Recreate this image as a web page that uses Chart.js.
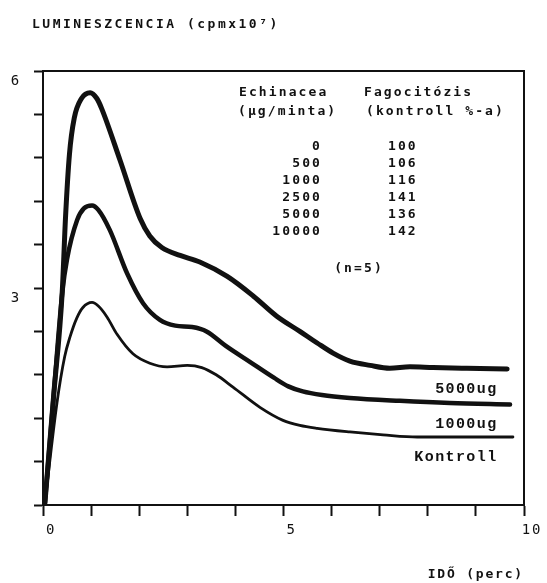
<!DOCTYPE html>
<html>
<head>
<meta charset="utf-8">
<script src="https://cdn.jsdelivr.net/npm/chart.js@4.4.0/dist/chart.umd.min.js"></script>
<style>
  body { margin: 0; background: #fff; }
</style>
</head>
<body>
<canvas id="lumChart" width="547" height="583"></canvas>
<script>
// curves (time in perc, luminescence in cpm x10^7)
const x5000 = [0.04, 0.22, 0.40, 0.47, 0.55, 0.65, 0.80, 0.98, 1.12, 1.22, 1.60, 2.02, 2.22, 2.47, 2.85, 3.26, 3.83, 4.37, 4.86, 5.34, 5.70, 6.03, 6.38, 6.80, 7.21, 7.63, 8.11, 8.81, 9.65];
const y5000 = [0.03, 1.50, 2.95, 4.00, 4.85, 5.35, 5.62, 5.70, 5.62, 5.48, 4.77, 3.96, 3.72, 3.56, 3.45, 3.36, 3.16, 2.89, 2.61, 2.40, 2.24, 2.10, 1.99, 1.93, 1.89, 1.91, 1.90, 1.89, 1.88];

const x1000 = [0.04, 0.22, 0.40, 0.50, 0.71, 0.85, 1.02, 1.15, 1.39, 1.75, 2.08, 2.43, 2.75, 3.10, 3.40, 3.80, 4.30, 4.80, 5.10, 5.40, 5.80, 6.38, 7.42, 8.46, 9.71];
const y1000 = [0.03, 1.50, 2.93, 3.40, 3.94, 4.10, 4.14, 4.08, 3.80, 3.20, 2.79, 2.56, 2.48, 2.46, 2.40, 2.20, 1.98, 1.76, 1.64, 1.57, 1.52, 1.48, 1.44, 1.41, 1.39];

const xKontroll = [0.04, 0.29, 0.45, 0.56, 0.70, 0.83, 1.02, 1.15, 1.33, 1.54, 1.87, 2.22, 2.58, 3.00, 3.30, 3.60, 3.95, 4.51, 4.99, 5.34, 5.70, 6.38, 7.07, 7.78, 8.81, 9.77];
const yKontroll = [0.03, 1.41, 2.05, 2.32, 2.58, 2.73, 2.80, 2.75, 2.60, 2.36, 2.09, 1.96, 1.91, 1.93, 1.90, 1.80, 1.63, 1.35, 1.17, 1.10, 1.06, 1.01, 0.97, 0.94, 0.94, 0.94];

const curveNames = ['5000ug', '1000ug', 'Kontroll'];

const xTicks = [0, 1, 2, 3, 4, 5, 6, 7, 8, 9, 10];
const xLabelValues = [0, 5, 10];
const yTicks = [0, 0.6, 1.2, 1.8, 2.4, 3, 3.6, 4.2, 4.8, 5.4, 6];
const yLabelValues = [3, 6];

// table in the upper right
const tableHead1 = ['Echinacea', '(µg/minta)'];
const tableHead2 = ['Fagocitózis', '(kontroll %-a)'];
const doses = ['0', '500', '1000', '2500', '5000', '10000'];
const phago = ['100', '106', '116', '141', '136', '142'];
const nNote = '(n=5)';

const yTitle = 'LUMINESZCENCIA (cpmx10⁷)';
const xTitle = 'IDŐ (perc)';

const ink = '#111';
const monoFont = '"DejaVu Sans Mono"';

function pts(xs, ys) {
    return xs.map((v, i) => ({ x: v, y: ys[i] }));
}

const textPlugin = {
    id: 'textPlugin',
    beforeDraw(chart) {
        chart.ctx.letterSpacing = '1.8px';
    },
    afterDraw(chart) {
        const ctx = chart.ctx;
        ctx.save();
        ctx.fillStyle = ink;
        ctx.textBaseline = 'middle';
        ctx.font = 'bold 13px ' + monoFont;
        ctx.letterSpacing = '2.5px';

        ctx.textAlign = 'left';
        ctx.fillText(yTitle, 32, 25);

        // table
        ctx.letterSpacing = '2.1px';
        ctx.fillText(tableHead1[0], 239, 93);
        ctx.fillText(tableHead1[1], 238, 112);
        ctx.fillText(tableHead2[0], 364, 93);
        ctx.fillText(tableHead2[1], 366, 112);
        doses.forEach((d, i) => {
            ctx.textAlign = 'right';
            ctx.fillText(d, 322, 147 + i * 17);
            ctx.textAlign = 'left';
            ctx.fillText(phago[i], 388, 147 + i * 17);
        });
        ctx.textAlign = 'center';
        ctx.fillText(nNote, 359, 269);

        // curve names under the line ends
        ctx.font = 'bold 15px "Liberation Mono"';
        ctx.letterSpacing = '1.4px';
        ctx.textAlign = 'right';
        const xs = chart.scales.x;
        curveNames.forEach((name, i) => {
            const meta = chart.getDatasetMeta(i);
            const last = meta.data[meta.data.length - 1];
            ctx.fillText(name, xs.getPixelForValue(9.45), last.y + 20);
        });
        ctx.restore();
    }
};

const commonLine = {
    borderColor: ink,
    pointRadius: 0,
    fill: false,
    cubicInterpolationMode: 'monotone',
    borderCapStyle: 'round',
    borderJoinStyle: 'round'
};

new Chart(document.getElementById('lumChart'), {
    type: 'line',
    data: {
        datasets: [
            { ...commonLine, label: curveNames[0], data: pts(x5000, y5000), borderWidth: 5 },
            { ...commonLine, label: curveNames[1], data: pts(x1000, y1000), borderWidth: 4.5 },
            { ...commonLine, label: curveNames[2], data: pts(xKontroll, yKontroll), borderWidth: 2.8 }
        ]
    },
    options: {
        responsive: false,
        animation: false,
        layout: { padding: { top: 71, right: 23, left: 0, bottom: 0 } },
        plugins: {
            legend: { display: false },
            tooltip: { enabled: false }
        },
        scales: {
            x: {
                type: 'linear',
                position: 'bottom',
                min: 0,
                max: 10,
                afterBuildTicks: s => { s.ticks = xTicks.map(v => ({ value: v })); },
                afterFit: s => { s.height = 78; },
                ticks: {
                    autoSkip: false,
                    maxRotation: 0,
                    padding: 6,
                    labelOffset: 8,
                    color: ink,
                    font: { family: monoFont, size: 14 },
                    callback: v => xLabelValues.includes(v) ? String(v) : ''
                },
                grid: { drawOnChartArea: false, drawTicks: true, tickLength: 11, tickWidth: 2, tickColor: ink },
                border: { color: ink, width: 2 },
                title: {
                    display: true,
                    text: xTitle,
                    align: 'end',
                    color: ink,
                    font: { family: monoFont, size: 13, weight: 'bold' },
                    padding: { top: 0, bottom: 1 }
                }
            },
            y: {
                type: 'linear',
                position: 'left',
                min: 0,
                max: 6,
                afterBuildTicks: s => { s.ticks = yTicks.map(v => ({ value: v })); },
                afterFit: s => { s.width = 43; },
                ticks: {
                    autoSkip: false,
                    padding: 13,
                    labelOffset: 10,
                    color: ink,
                    font: { family: monoFont, size: 14 },
                    callback: v => yLabelValues.includes(v) ? String(v) : ''
                },
                grid: { drawOnChartArea: false, drawTicks: true, tickLength: 9, tickWidth: 2, tickColor: ink },
                border: { color: ink, width: 2 }
            },
            xTop: {
                type: 'linear',
                position: 'top',
                min: 0,
                max: 10,
                display: true,
                afterFit: s => { s.height = 0; },
                ticks: { display: false },
                grid: { display: false },
                border: { color: ink, width: 2 }
            },
            yRight: {
                type: 'linear',
                position: 'right',
                min: 0,
                max: 6,
                display: true,
                afterFit: s => { s.width = 0; },
                ticks: { display: false },
                grid: { display: false },
                border: { color: ink, width: 2 }
            }
        }
    },
    plugins: [textPlugin]
});
</script>
</body>
</html>
